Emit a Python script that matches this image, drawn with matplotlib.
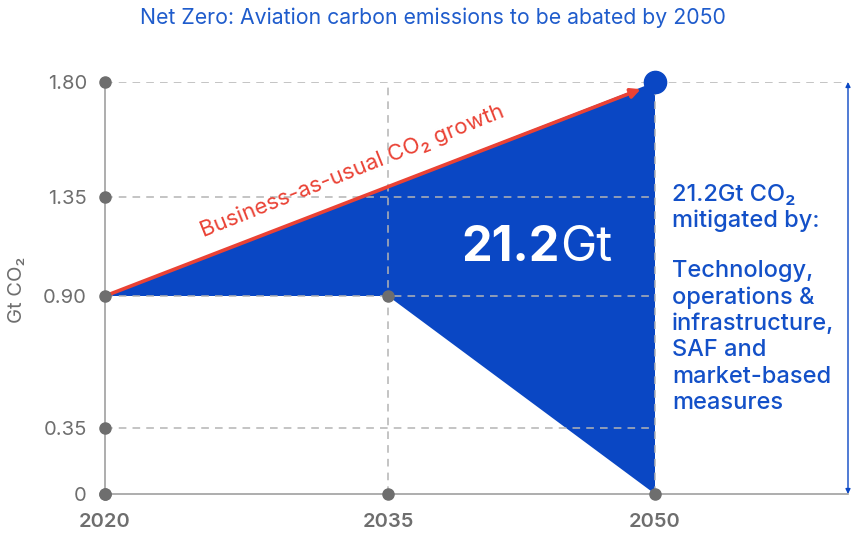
import numpy as np
import matplotlib.pyplot as plt

plt.rcParams['font.family'] = ['Inter', 'DejaVu Sans']

# data
years = [2020, 2035, 2050]
bau_start, bau_end = 0.90, 1.80          # business-as-usual line
plateau = 0.90                            # held flat until 2035
net_zero = 0.0                            # 2050 target
y_ticks = [0, 0.35, 0.90, 1.35, 1.80]
y_tick_labels = ['0', '0.35', '0.90', '1.35', '1.80']

blue = '#0a47c4'
red = '#ea4235'
grey = '#6e6e6e'
grid_c = '#b4b4b4'

W, H = 857, 545


def fx(px):
    return px / W


def fy(py):
    return 1 - py / H


def piecewise(keys, pos):
    keys = np.asarray(keys, float)
    pos = np.asarray(pos, float)
    return (lambda v: np.interp(v, keys, pos),
            lambda v: np.interp(v, pos, keys))


fig = plt.figure(figsize=(W / 100, H / 100), dpi=100)
ax = fig.add_axes([fx(105), fy(494), fx(848) - fx(105), fy(82) - fy(494)])

# infographic axes are not evenly spaced
ax.set_xscale('function', functions=piecewise([2020, 2035, 2050, 2061], [0, 283, 550, 743]))
ax.set_yscale('function', functions=piecewise(y_ticks, [0, 66, 198, 297, 412]))
ax.set_xlim(2020, 2061)
ax.set_ylim(0, 1.80)

# abated area
px = [years[0], years[2], years[2], years[1], years[0]]
py = [bau_start, bau_end, net_zero, plateau, bau_start]
ax.fill(px, py, color=blue, lw=0, zorder=2)

# dashed guides
dash = dict(color=grid_c, lw=1.1, linestyles=(0, (5, 4)), zorder=3)
ax.hlines([0.35, 0.90, 1.35], years[0], years[2], **dash)
ax.hlines(1.80, years[0], 2061, **dash)
ax.vlines([years[1], years[2]], 0, 1.80, **dash)

for s in ['top', 'right']:
    ax.spines[s].set_visible(False)
for s in ['left', 'bottom']:
    ax.spines[s].set_color('#a0a0a0')
    ax.spines[s].set_linewidth(1.2)

ax.set_yticks(y_ticks)
ax.set_yticklabels(y_tick_labels)
ax.set_xticks(years)
ax.set_xticklabels([str(y) for y in years], fontweight='semibold')
ax.tick_params(axis='y', length=0, pad=13, labelsize=14.5, labelcolor=grey)
ax.tick_params(axis='x', length=0, pad=14, labelsize=14.5, labelcolor=grey)

# grey dots on axes
ax.plot([years[0]] * len(y_ticks), y_ticks, 'o', ms=8, color=grey, clip_on=False, zorder=6)
ax.plot(years, [0, 0, 0], 'o', ms=8, color=grey, clip_on=False, zorder=6)
ax.plot(years[1], plateau, 'o', ms=8, color=grey, zorder=6)

# business-as-usual arrow
ax.annotate('', xy=(2049.2, 1.772), xytext=(years[0], bau_start),
            arrowprops=dict(arrowstyle='-|>', color=red, lw=2.6,
                            mutation_scale=14, shrinkA=0, shrinkB=0),
            zorder=5)
ax.plot(years[2], bau_end, 'o', ms=16, color=blue, clip_on=False, zorder=7)

# range arrow on the right
ax.annotate('', xy=(2061, 1.80), xytext=(2061, 0),
            arrowprops=dict(arrowstyle='<|-|>', color=blue, lw=1,
                            mutation_scale=7, shrinkA=0, shrinkB=0),
            annotation_clip=False)

# texts
fig.text(fx(433), fy(18), 'Net Zero: Aviation carbon emissions to be abated by 2050',
         ha='center', va='center', color='#1f5ccc', fontsize=15.3)
fig.text(fx(17), fy(290), 'Gt CO₂', rotation=90, ha='center', va='center',
         color=grey, fontsize=14.5)
fig.text(fx(352), fy(171), 'Business-as-usual CO₂ growth', rotation=21.8,
         ha='center', va='center', color=red, fontsize=16, rotation_mode='anchor')
fig.text(fx(560), fy(248), '21.2', ha='right', va='center', color='white',
         fontsize=35, fontweight='bold')
fig.text(fx(560), fy(248), 'Gt', ha='left', va='center', color='white',
         fontsize=35)
fig.text(fx(672), fy(208), '21.2Gt CO₂\nmitigated by:', ha='left', va='center',
         color='#1350c8', fontsize=17, fontweight='medium', linespacing=1.2)
fig.text(fx(672), fy(337), 'Technology,\noperations &\ninfrastructure,\nSAF and\nmarket-based\nmeasures',
         ha='left', va='center', color='#1350c8', fontsize=17, fontweight='medium',
         linespacing=1.25)

fig.savefig('out.png', dpi=100)
